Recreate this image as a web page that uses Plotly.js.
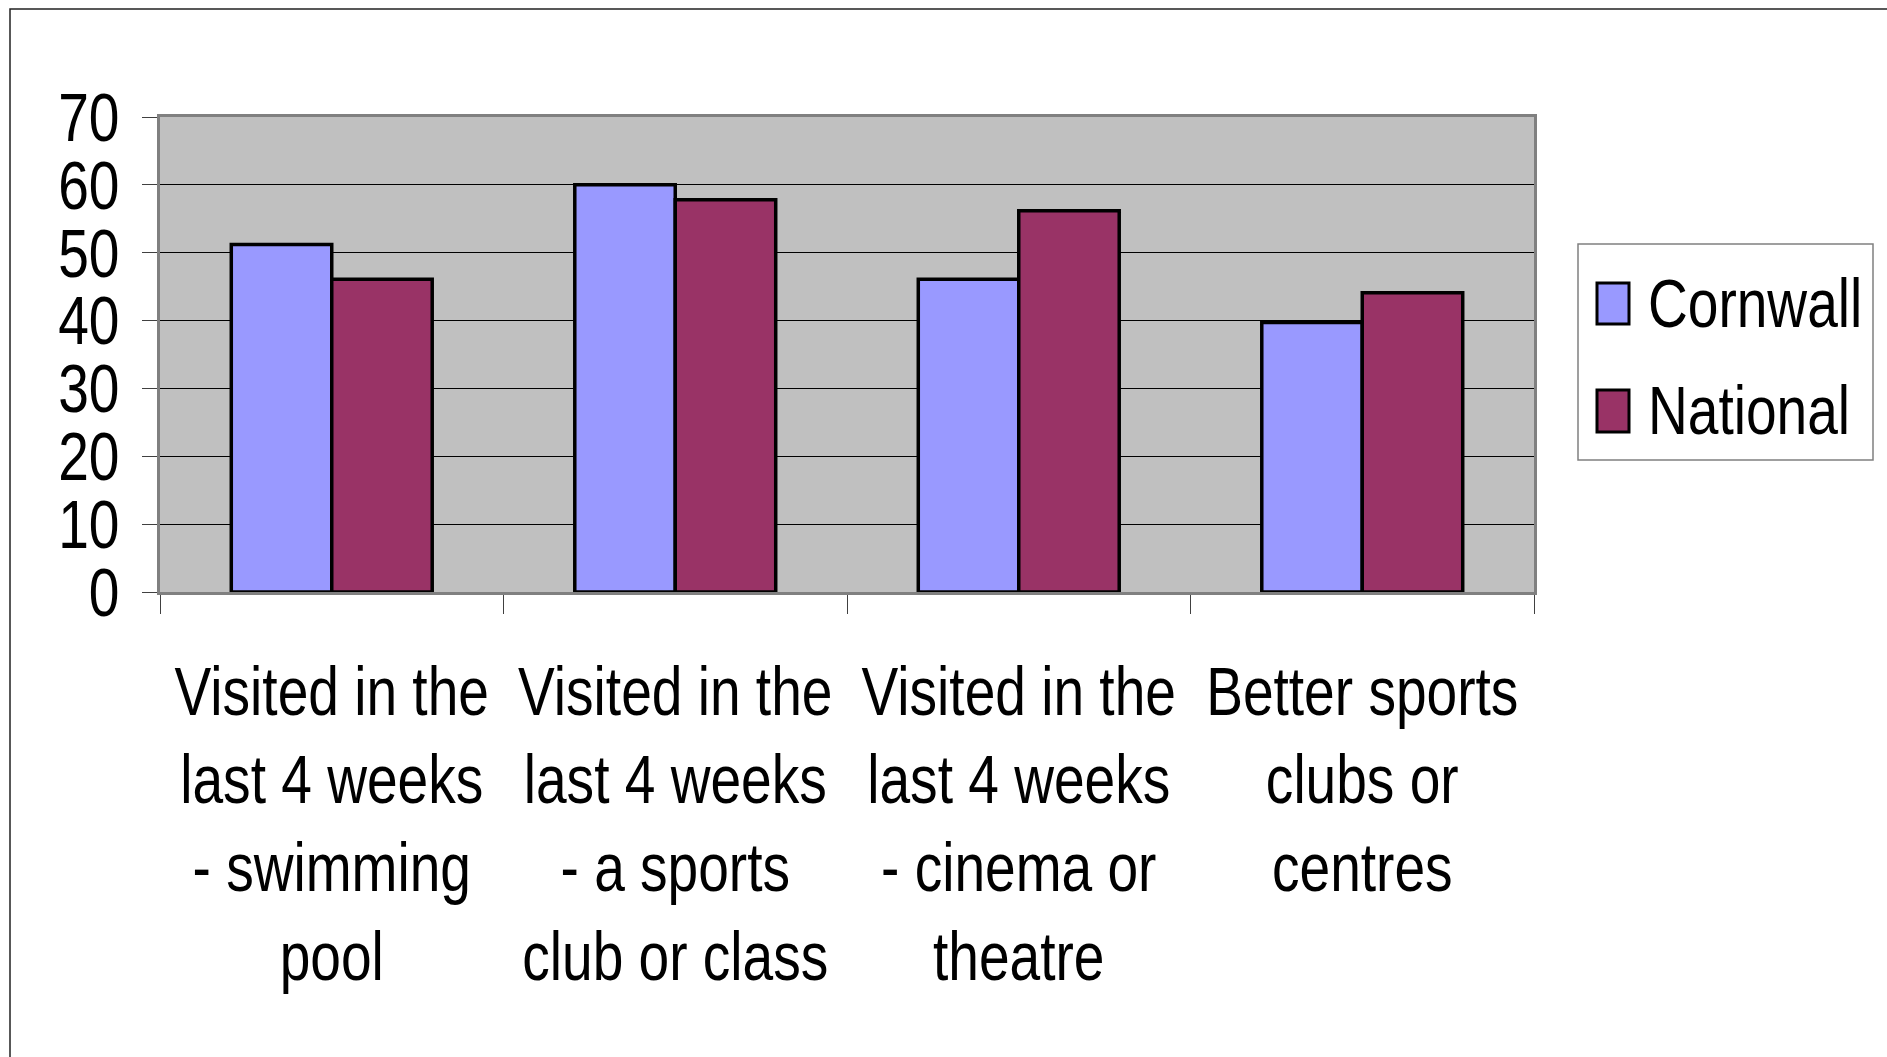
<!DOCTYPE html>
<html>
<head>
<meta charset="utf-8">
<script src="https://cdn.plot.ly/plotly-3.0.1.min.js"></script>
<style>
html,body{margin:0;padding:0;background:#fff;}
#chart{width:1887px;height:1057px;}
</style>
</head>
<body>
<div id="chart"></div>
<script>
const categories = [
  "Visited in the<br>last 4 weeks<br>- swimming<br>pool",
  "Visited in the<br>last 4 weeks<br>- a sports<br>club or class",
  "Visited in the<br>last 4 weeks<br>- cinema or<br>theatre",
  "Better sports<br>clubs or<br>centres"
];
const seriesNames = ["Cornwall", "National"];
const cornwall = [51.2, 60, 46.1, 39.7];
const national = [46.1, 57.8, 56.2, 44.1];
const yTickVals = [0, 10, 20, 30, 40, 50, 60, 70];
const yTickText = ["0", "10", "20", "30", "40", "50", "60", "70"];

const colors = ["#9999FF", "#993366"];
const FONT = '"Liberation Sans", Arial, sans-serif';
const NARROW = 0.81; // horizontal squeeze to mimic the narrow typeface

// layout geometry (pixels)
const W = 1887, H = 1057;
const L = 160, R = 1534, T = 117, B = 592;
const px = x => (x - L) / (R - L);
const py = y => (B - y) / (B - T);

const traces = [cornwall, national].map((vals, i) => ({
  type: "bar",
  name: seriesNames[i],
  x: categories,
  y: vals,
  marker: { color: colors[i], line: { color: "#000", width: 3.5 } },
  showlegend: false,
  hoverinfo: "skip"
}));

const shapes = [
  // outer chart frame
  { type: "rect", xref: "paper", yref: "paper", x0: px(10), x1: px(1920), y0: py(9), y1: py(1100),
    line: { color: "#222", width: 1.5 }, fillcolor: "rgba(0,0,0,0)", layer: "below" },
  // legend box
  { type: "rect", xref: "paper", yref: "paper", x0: px(1578), x1: px(1873), y0: py(244), y1: py(460),
    line: { color: "#808080", width: 1.5 }, fillcolor: "#fff" }
];
const annotations = [];
const legendRows = [ [283, 324, 303], [390, 432, 410] ];
seriesNames.forEach((n, i) => {
  const r = legendRows[i];
  shapes.push({ type: "rect", xref: "paper", yref: "paper", x0: px(1597), x1: px(1629), y0: py(r[0]), y1: py(r[1]),
    line: { color: "#000", width: 3 }, fillcolor: colors[i] });
  annotations.push({ xref: "paper", yref: "paper", x: px(1646), y: py(r[2]), xanchor: "left", yanchor: "middle",
    text: n, showarrow: false, font: { family: FONT, size: 68, color: "#000" } });
});

const layout = {
  width: W, height: H,
  margin: { l: L, r: W - R, t: T, b: H - B, pad: 0 },
  paper_bgcolor: "#fff",
  plot_bgcolor: "#C0C0C0",
  barmode: "group",
  bargap: 0.415,
  bargroupgap: 0,
  showlegend: false,
  font: { family: FONT, size: 68, color: "#000" },
  xaxis: {
    type: "category",
    tickson: "boundaries",
    ticks: "outside", ticklen: 19, tickwidth: 1, tickcolor: "#404040",
    showline: true, linecolor: "#808080", linewidth: 3, mirror: true,
    showgrid: false, zeroline: false,
    tickfont: { family: FONT, size: 68, color: "#000" },
    ticklabelstandoff: 38,
    tickangle: 0
  },
  yaxis: {
    range: [0, 70],
    tickmode: "array", tickvals: yTickVals, ticktext: yTickText,
    ticks: "outside", ticklen: 15, tickwidth: 1, tickcolor: "#404040",
    showline: true, linecolor: "#808080", linewidth: 3, mirror: true,
    showgrid: true, gridcolor: "#000", gridwidth: 1,
    zeroline: false,
    tickfont: { family: FONT, size: 68, color: "#000" },
    ticklabelstandoff: 9
  },
  shapes: shapes,
  annotations: annotations
};

function squeeze(el, forceLeft) {
  if (el.getAttribute("data-squeezed")) return;
  const bb = el.getBBox();
  const anchor = el.getAttribute("text-anchor") || "start";
  let ax = bb.x;
  if (!forceLeft) {
    if (anchor === "middle") ax = bb.x + bb.width / 2;
    else if (anchor === "end") ax = bb.x + bb.width;
  }
  const t = el.getAttribute("transform") || "";
  el.setAttribute("transform", t + " translate(" + ax + ",0) scale(" + NARROW + ",1) translate(" + (-ax) + ",0)");
  el.setAttribute("data-squeezed", "1");
}

function squeezeText(gd) {
  gd.querySelectorAll(".xtick text, .ytick text").forEach(el => squeeze(el, false));
  gd.querySelectorAll(".annotation-text-g text").forEach(el => squeeze(el, true));
}

Plotly.newPlot("chart", traces, layout, { displayModeBar: false, staticPlot: true })
  .then(gd => squeezeText(gd));
</script>
</body>
</html>
